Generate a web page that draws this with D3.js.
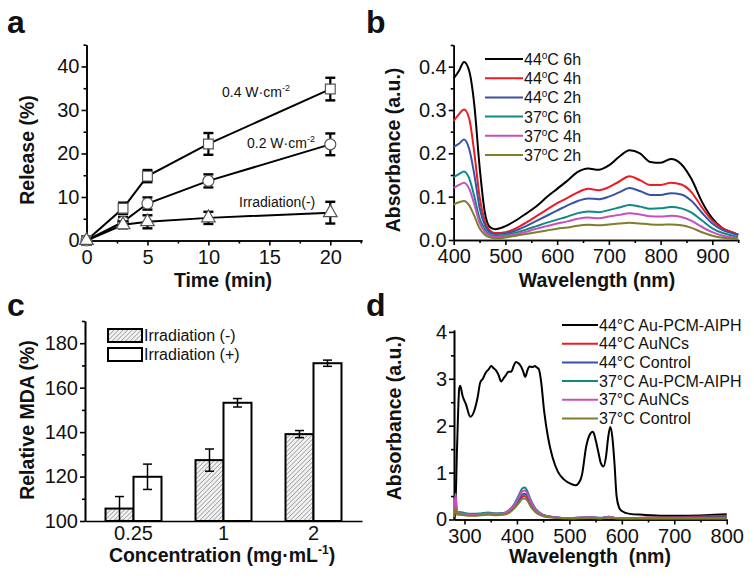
<!DOCTYPE html>
<html>
<head>
<meta charset="utf-8">
<script src="https://cdn.jsdelivr.net/npm/d3@7"></script>
<style>
body { margin: 0; background: #fff; }
svg { font-family: "Liberation Sans", Arial, sans-serif; }
.axis path, .axis line { stroke: #000; stroke-width: 1.6; }
.axis text { font-size: 20px; fill: #111; font-family: "Liberation Sans", Arial, sans-serif; }
.title { font-weight: bold; font-size: 19.5px; fill: #111; }
.panel { font-weight: bold; font-size: 32px; fill: #111; }
.note { font-size: 14px; fill: #111; }
.leg { font-size: 16px; fill: #111; }
</style>
</head>
<body>
<svg id="fig" width="754" height="578"></svg>
<script>
// ---- panel a: release vs time
var aTime = [0, 3, 5, 10, 20];
var aHigh = [0, 7.4, 14.8, 22.2, 34.8];
var aHighErr = [0, 1.3, 1.4, 2.5, 2.6];
var aMid = [0, 4.3, 8.5, 13.7, 22.1];
var aMidErr = [0, 1.1, 1.4, 1.5, 2.5];
var aLow = [0, 3.6, 4.3, 5.2, 6.4];
var aLowErr = [0, 0.8, 1.5, 1.4, 2.5];

// ---- panel b: spectra
var bWave = [400, 410, 420, 430, 440, 450, 460, 470, 480, 500, 520, 540, 560, 580, 600, 620, 640, 660, 680, 700, 720, 740, 760, 780, 800, 820, 840, 860, 880, 900, 920, 940, 950];
var b44h6 = [0.373, 0.39, 0.411, 0.39, 0.31, 0.17, 0.065, 0.03, 0.025, 0.032, 0.045, 0.061, 0.078, 0.099, 0.118, 0.137, 0.157, 0.165, 0.162, 0.172, 0.192, 0.207, 0.2, 0.18, 0.178, 0.187, 0.175, 0.14, 0.088, 0.05, 0.027, 0.017, 0.012];
var b44h4 = [0.275, 0.29, 0.301, 0.28, 0.2, 0.1, 0.045, 0.022, 0.016, 0.018, 0.027, 0.04, 0.055, 0.07, 0.085, 0.097, 0.11, 0.118, 0.115, 0.122, 0.135, 0.147, 0.138, 0.127, 0.127, 0.132, 0.128, 0.11, 0.075, 0.045, 0.027, 0.017, 0.013];
var b44h2 = [0.215, 0.222, 0.232, 0.21, 0.15, 0.075, 0.035, 0.018, 0.014, 0.015, 0.022, 0.032, 0.044, 0.056, 0.068, 0.08, 0.09, 0.096, 0.094, 0.1, 0.11, 0.12, 0.113, 0.104, 0.104, 0.108, 0.105, 0.09, 0.063, 0.038, 0.023, 0.015, 0.012];
var b37h6 = [0.145, 0.152, 0.158, 0.142, 0.1, 0.05, 0.025, 0.013, 0.01, 0.012, 0.017, 0.024, 0.032, 0.04, 0.047, 0.054, 0.062, 0.066, 0.064, 0.069, 0.075, 0.081, 0.077, 0.072, 0.073, 0.076, 0.073, 0.063, 0.045, 0.027, 0.016, 0.01, 0.008];
var b37h4 = [0.12, 0.127, 0.132, 0.118, 0.082, 0.04, 0.019, 0.01, 0.007, 0.009, 0.013, 0.019, 0.026, 0.032, 0.038, 0.043, 0.049, 0.052, 0.05, 0.054, 0.058, 0.062, 0.059, 0.055, 0.054, 0.056, 0.053, 0.044, 0.03, 0.018, 0.01, 0.006, 0.005];
var b37h2 = [0.082, 0.087, 0.09, 0.08, 0.055, 0.027, 0.012, 0.006, 0.004, 0.006, 0.01, 0.014, 0.018, 0.022, 0.026, 0.029, 0.033, 0.035, 0.034, 0.036, 0.038, 0.04, 0.038, 0.036, 0.035, 0.036, 0.034, 0.028, 0.018, 0.01, 0.005, 0.003, 0.002];
var bNames = ["44|C 6h", "44|C 4h", "44|C 2h", "37|C 6h", "37|C 4h", "37|C 2h"];

// ---- panel c: MDA bars
var cConc = ["0.25", "1", "2"];
var cSeries = ["Irradiation (-)", "Irradiation (+)"];
var cOff = [105.6, 127.4, 139.1];
var cOffErr = [5.4, 5.0, 1.6];
var cOn = [119.9, 153.2, 171.0];
var cOnErr = [5.7, 1.9, 1.4];

// ---- panel d: spectra
var dWaveBlack = [280, 282, 286, 290, 292, 296, 303, 311, 319, 325, 330, 335, 341, 346, 351, 356, 360, 365, 370, 375, 379, 384, 389, 394, 398, 403, 408, 412, 416, 420, 424, 430, 434, 438, 442, 446, 452, 459, 468, 478, 490, 503, 512, 518, 524, 532, 540, 545, 550, 555, 560, 565, 570, 574, 578, 582, 586, 590, 595, 600, 615, 640, 680, 720, 760, 800];
var dAuPcm44 = [0.02, 0.1, 1.6, 2.8, 2.85, 2.65, 2.45, 2.19, 2.33, 2.6, 2.92, 3.0, 3.14, 3.2, 3.27, 3.22, 3.18, 3.08, 2.94, 3.02, 3.08, 3.15, 3.15, 3.28, 3.36, 3.33, 3.26, 3.15, 3.04, 3.18, 3.26, 3.25, 3.27, 3.24, 3.2, 2.95, 2.3, 1.77, 1.32, 1.02, 0.85, 0.76, 0.73, 0.78, 0.95, 1.55, 1.83, 1.87, 1.7, 1.45, 1.2, 1.13, 1.35, 1.75, 1.97, 1.75, 1.2, 0.5, 0.25, 0.18, 0.12, 0.1, 0.08, 0.08, 0.09, 0.11];
var dWave = [280, 283, 286, 290, 300, 310, 320, 330, 345, 360, 375, 385, 395, 405, 410, 415, 420, 425, 435, 450, 470, 500, 540, 560, 575, 590, 620, 650, 700, 750, 800];
var dAu44 = [0.05, 0.25, 0.12, 0.13, 0.11, 0.09, 0.09, 0.1, 0.12, 0.11, 0.12, 0.16, 0.25, 0.4, 0.48, 0.5, 0.45, 0.35, 0.2, 0.09, 0.05, 0.03, 0.04, 0.03, 0.05, 0.03, 0.03, 0.04, 0.05, 0.065, 0.08];
var dCtl44 = [0.05, 0.3, 0.14, 0.14, 0.12, 0.1, 0.1, 0.11, 0.13, 0.12, 0.13, 0.18, 0.28, 0.44, 0.53, 0.55, 0.5, 0.38, 0.21, 0.09, 0.05, 0.03, 0.04, 0.03, 0.05, 0.03, 0.03, 0.035, 0.04, 0.045, 0.05];
var dAuPcm37 = [0.05, 0.35, 0.16, 0.16, 0.14, 0.12, 0.12, 0.13, 0.15, 0.13, 0.14, 0.2, 0.33, 0.55, 0.66, 0.68, 0.6, 0.45, 0.24, 0.1, 0.05, 0.03, 0.05, 0.035, 0.06, 0.03, 0.03, 0.03, 0.03, 0.03, 0.03];
var dAu37 = [0.1, 0.55, 0.18, 0.13, 0.12, 0.1, 0.1, 0.11, 0.13, 0.12, 0.13, 0.19, 0.3, 0.5, 0.6, 0.62, 0.55, 0.41, 0.22, 0.09, 0.05, 0.03, 0.05, 0.03, 0.06, 0.03, 0.025, 0.025, 0.025, 0.025, 0.025];
var dCtl37 = [0.05, 0.25, 0.1, 0.1, 0.09, 0.08, 0.08, 0.09, 0.1, 0.09, 0.1, 0.14, 0.24, 0.37, 0.44, 0.45, 0.4, 0.3, 0.16, 0.07, 0.04, 0.02, 0.03, 0.02, 0.04, 0.02, 0.02, 0.02, 0.02, 0.02, 0.02];
var dNames = ["44°C Au-PCM-AIPH", "44°C AuNCs", "44°C Control", "37°C Au-PCM-AIPH", "37°C AuNCs", "37°C Control"];

var specColors = ["#000000", "#ec1c24", "#3853a4", "#0f8a82", "#c84fbd", "#7f7d2e"];

var svg = d3.select("#fig");
var defs = svg.append("defs");

// diagonal hatch for the "irradiation (-)" bars
var hatch = defs.append("pattern")
  .attr("id", "hatch")
  .attr("patternUnits", "userSpaceOnUse")
  .attr("width", 3.2)
  .attr("height", 3.2)
  .attr("patternTransform", "rotate(45)");
hatch.append("rect").attr("width", 3.2).attr("height", 3.2).attr("fill", "#f2f2f2");
hatch.append("line").attr("x1", 0).attr("y1", 0).attr("x2", 0).attr("y2", 3.2)
  .attr("stroke", "#7a7a7a").attr("stroke-width", 1.1);

// axes with outward major + minor ticks (Origin style)
function drawAxes(x, y, xMajor, xMinor, yMajor, yMinor, xFmt, yFmt) {
  var y0 = y.range()[0];
  var x0 = x.range()[0];
  svg.append("g").attr("class", "axis")
    .attr("transform", "translate(0," + y0 + ")")
    .call(d3.axisBottom(x).tickValues(xMinor).tickSize(3).tickSizeOuter(0).tickFormat(""));
  svg.append("g").attr("class", "axis")
    .attr("transform", "translate(0," + y0 + ")")
    .call(d3.axisBottom(x).tickValues(xMajor).tickSize(5).tickSizeOuter(0).tickPadding(4).tickFormat(xFmt));
  svg.append("g").attr("class", "axis")
    .attr("transform", "translate(" + x0 + ",0)")
    .call(d3.axisLeft(y).tickValues(yMinor).tickSize(3).tickSizeOuter(0).tickFormat(""));
  svg.append("g").attr("class", "axis")
    .attr("transform", "translate(" + x0 + ",0)")
    .call(d3.axisLeft(y).tickValues(yMajor).tickSize(5).tickSizeOuter(0).tickPadding(2).tickFormat(yFmt));
}

function yTitle(txt, x, y) {
  svg.append("text").attr("class", "title")
    .attr("transform", "translate(" + x + "," + y + ") rotate(-90)")
    .attr("text-anchor", "middle")
    .text(txt);
}

// panel letters
svg.append("text").attr("class", "panel").attr("x", 7).attr("y", 33).text("a");
svg.append("text").attr("class", "panel").attr("x", 366).attr("y", 33).text("b");
svg.append("text").attr("class", "panel").attr("x", 7).attr("y", 316).text("c");
svg.append("text").attr("class", "panel").attr("x", 366).attr("y", 316).text("d");

// =========================== panel a
var xa = d3.scaleLinear().domain([0, 22.6]).range([86.5, 362]);
var ya = d3.scaleLinear().domain([0, 45]).range([240.5, 44.7]);
drawAxes(xa, ya, [0, 5, 10, 15, 20], [2.5, 7.5, 12.5, 17.5, 22.5],
  [0, 10, 20, 30, 40], [5, 15, 25, 35, 45], d3.format("d"), d3.format("d"));

var aSets = [
  { v: aHigh, e: aHighErr, sym: d3.symbolSquare, size: 95 },
  { v: aMid, e: aMidErr, sym: d3.symbolCircle, size: 95 },
  { v: aLow, e: aLowErr, sym: d3.symbolTriangle, size: 80 }
];
var lineA = d3.line().x(function(d) { return xa(d[0]); }).y(function(d) { return ya(d[1]); });

aSets.forEach(function(s) {
  var pts = aTime.map(function(t, i) { return [t, s.v[i], s.e[i]]; });
  svg.append("path").datum(pts)
    .attr("d", lineA).attr("fill", "none").attr("stroke", "#000").attr("stroke-width", 2);
  var eb = svg.append("g");
  pts.filter(function(d) { return d[2] > 0; }).forEach(function(d) {
    var cx = xa(d[0]);
    eb.append("line").attr("x1", cx).attr("x2", cx)
      .attr("y1", ya(d[1] - d[2])).attr("y2", ya(d[1] + d[2]))
      .attr("stroke", "#000").attr("stroke-width", 2.2);
    [d[1] - d[2], d[1] + d[2]].forEach(function(v) {
      eb.append("line").attr("x1", cx - 5).attr("x2", cx + 5)
        .attr("y1", ya(v)).attr("y2", ya(v))
        .attr("stroke", "#000").attr("stroke-width", 2.4);
    });
  });
  svg.append("g").selectAll("path").data(pts).enter().append("path")
    .attr("transform", function(d) { return "translate(" + xa(d[0]) + "," + ya(d[1]) + ")"; })
    .attr("d", d3.symbol().type(s.sym).size(s.size))
    .attr("fill", "#fff").attr("stroke", "#555").attr("stroke-width", 1.2);
});

function powerLabel(txt, x, y) {
  var t = svg.append("text").attr("class", "note").attr("x", x).attr("y", y);
  t.append("tspan").text(txt);
  t.append("tspan").attr("dy", -6).attr("font-size", "9px").text("-2");
}
powerLabel("0.4 W\u00b7cm", 222, 97);
powerLabel("0.2 W\u00b7cm", 247, 148);
svg.append("text").attr("class", "note").attr("x", 239).attr("y", 207).text("Irradiation(-)");

yTitle("Release (%)", 34, 150);
svg.append("text").attr("class", "title").attr("x", 223).attr("y", 287)
  .attr("text-anchor", "middle").text("Time (min)");

// =========================== panel b
var xb = d3.scaleLinear().domain([400, 951]).range([453.7, 738.7]);
var yb = d3.scaleLinear().domain([0, 0.45]).range([240, 45]);
drawAxes(xb, yb, [400, 500, 600, 700, 800, 900], [450, 550, 650, 750, 850, 950],
  [0, 0.1, 0.2, 0.3, 0.4], [0.05, 0.15, 0.25, 0.35, 0.45], d3.format("d"), d3.format(".1f"));

var bSeries = [b44h6, b44h4, b44h2, b37h6, b37h4, b37h2];
var lineB = d3.line().curve(d3.curveMonotoneX)
  .x(function(d) { return xb(d[0]); }).y(function(d) { return yb(d[1]); });
bSeries.forEach(function(s, k) {
  svg.append("path")
    .datum(bWave.map(function(w, i) { return [w, s[i]]; }))
    .attr("d", lineB).attr("fill", "none")
    .attr("stroke", specColors[k]).attr("stroke-width", 2);
});

// legend b (superscript o for degree)
bNames.forEach(function(n, k) {
  var ly = 59 + k * 19.2;
  svg.append("line").attr("x1", 485).attr("x2", 523).attr("y1", ly).attr("y2", ly)
    .attr("stroke", specColors[k]).attr("stroke-width", 2);
  var parts = n.split("|");
  var t = svg.append("text").attr("class", "leg").attr("x", 524).attr("y", ly + 6);
  t.append("tspan").text(parts[0]);
  t.append("tspan").attr("dy", -6).attr("font-size", "10px").text("o");
  t.append("tspan").attr("dy", 6).text(parts[1]);
});

yTitle("Absorbance (a.u.)", 400, 150);
svg.append("text").attr("class", "title").attr("x", 597).attr("y", 287)
  .attr("text-anchor", "middle").text("Wavelength (nm)");

// =========================== panel c
var xc0 = d3.scaleBand().domain(cConc).range([85, 362]).paddingInner(0.378).paddingOuter(0.228);
var xc1 = d3.scaleBand().domain(cSeries).range([0, xc0.bandwidth()]);
var yc = d3.scaleLinear().domain([100, 190]).range([521, 321]);

var cData = cConc.map(function(c, i) {
  return [
    { conc: c, s: cSeries[0], v: cOff[i], e: cOffErr[i] },
    { conc: c, s: cSeries[1], v: cOn[i], e: cOnErr[i] }
  ];
});

cData.forEach(function(grp) {
  grp.forEach(function(d, k) {
    svg.append("rect")
      .attr("x", xc0(d.conc) + xc1(d.s))
      .attr("y", yc(d.v))
      .attr("width", xc1.bandwidth())
      .attr("height", yc(100) - yc(d.v))
      .attr("fill", k === 0 ? "url(#hatch)" : "#fff")
      .attr("stroke", "#000").attr("stroke-width", 2);
  });
});
cData.forEach(function(grp) {
  grp.forEach(function(d) {
    var cx = xc0(d.conc) + xc1(d.s) + xc1.bandwidth() / 2;
    svg.append("line").attr("x1", cx).attr("x2", cx)
      .attr("y1", yc(d.v - d.e)).attr("y2", yc(d.v + d.e))
      .attr("stroke", "#000").attr("stroke-width", 1.5);
    [d.v - d.e, d.v + d.e].forEach(function(v) {
      svg.append("line").attr("x1", cx - 4.5).attr("x2", cx + 4.5)
        .attr("y1", yc(v)).attr("y2", yc(v))
        .attr("stroke", "#000").attr("stroke-width", 1.5);
    });
  });
});

svg.append("g").attr("class", "axis")
  .attr("transform", "translate(0,521)")
  .call(d3.axisBottom(xc0).tickSize(0).tickSizeOuter(0).tickPadding(5));
svg.append("g").attr("class", "axis")
  .attr("transform", "translate(85,0)")
  .call(d3.axisLeft(yc).tickValues([110, 130, 150, 170, 190]).tickSize(3).tickSizeOuter(0).tickFormat(""));
svg.append("g").attr("class", "axis")
  .attr("transform", "translate(85,0)")
  .call(d3.axisLeft(yc).tickValues([100, 120, 140, 160, 180]).tickSize(5).tickSizeOuter(0).tickPadding(2));

// legend c
cSeries.forEach(function(n, k) {
  var ly = 329 + k * 19;
  svg.append("rect").attr("x", 108).attr("y", ly).attr("width", 34).attr("height", 13)
    .attr("fill", k === 0 ? "url(#hatch)" : "#fff")
    .attr("stroke", "#000").attr("stroke-width", 2);
  svg.append("text").attr("class", "leg").attr("font-size", "15.5px")
    .attr("x", 144).attr("y", ly + 12).text(n);
});

yTitle("Relative MDA (%)", 34, 420);
var ct = svg.append("text").attr("class", "title").attr("x", 222).attr("y", 562)
  .attr("text-anchor", "middle");
ct.append("tspan").text("Concentration (mg\u00b7mL");
ct.append("tspan").attr("dy", -8).attr("font-size", "12px").text("-1");
ct.append("tspan").attr("dy", 8).text(")");

// =========================== panel d
var xd = d3.scaleLinear().domain([280, 800]).range([454, 726.7]);
var yd = d3.scaleLinear().domain([0, 4.04]).range([519.5, 330]);
drawAxes(xd, yd, [300, 400, 500, 600, 700, 800], [350, 450, 550, 650, 750],
  [0, 1, 2, 3, 4], [0.5, 1.5, 2.5, 3.5], d3.format("d"), d3.format("d"));

var lineD = d3.line().curve(d3.curveMonotoneX)
  .x(function(d) { return xd(d[0]); }).y(function(d) { return yd(d[1]); });
svg.append("path")
  .datum(dWaveBlack.map(function(w, i) { return [w, dAuPcm44[i]]; }))
  .attr("d", lineD).attr("fill", "none")
  .attr("stroke", specColors[0]).attr("stroke-width", 2);
[dAu44, dCtl44, dAuPcm37, dAu37, dCtl37].forEach(function(s, k) {
  svg.append("path")
    .datum(dWave.map(function(w, i) { return [w, s[i]]; }))
    .attr("d", lineD).attr("fill", "none")
    .attr("stroke", specColors[k + 1]).attr("stroke-width", 2);
});

dNames.forEach(function(n, k) {
  var ly = 325 + k * 18.7;
  svg.append("line").attr("x1", 562).attr("x2", 598).attr("y1", ly).attr("y2", ly)
    .attr("stroke", specColors[k]).attr("stroke-width", 2);
  svg.append("text").attr("class", "leg").attr("font-size", "15px")
    .attr("x", 599).attr("y", ly + 5.5).text(n);
});

yTitle("Absorbance (a.u.)", 401, 418);
svg.append("text").attr("class", "title").attr("x", 590).attr("y", 563)
  .attr("text-anchor", "middle").style("white-space", "pre").text("Wavelength  (nm)");
</script>
</body>
</html>
